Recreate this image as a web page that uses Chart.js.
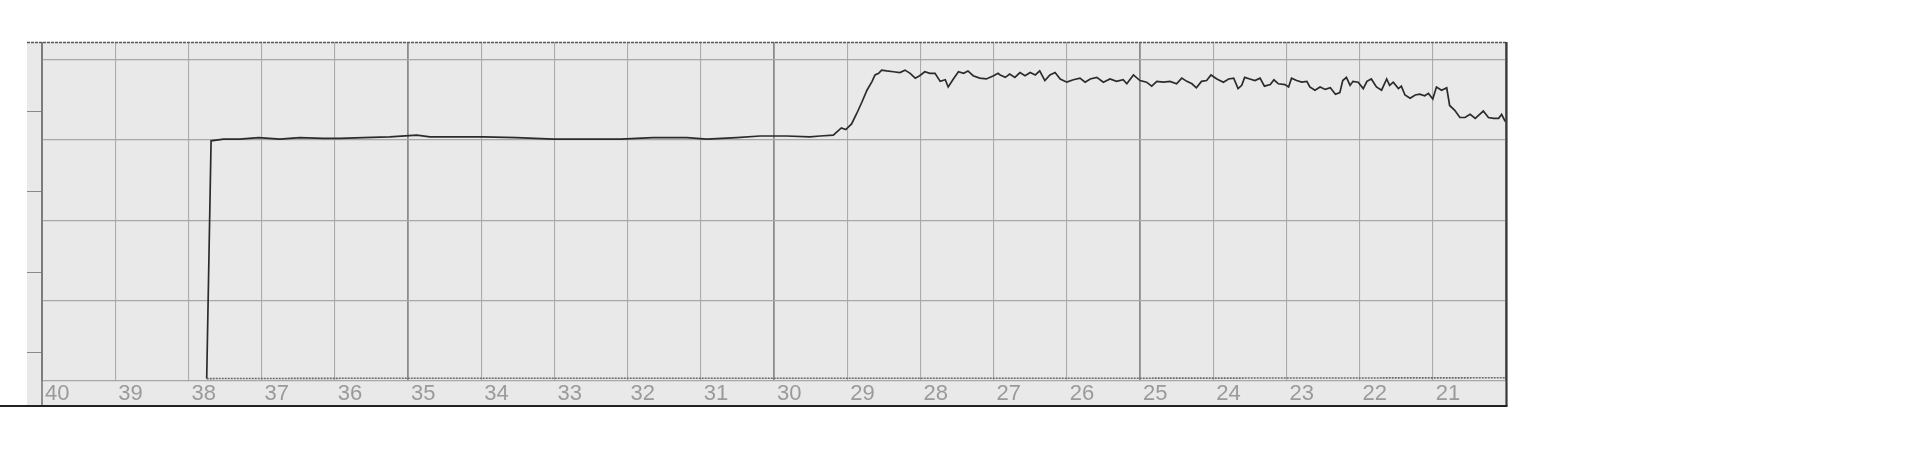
<!DOCTYPE html>
<html>
<head>
<meta charset="utf-8">
<script src="https://cdn.jsdelivr.net/npm/chart.js@4"></script>
<style>
  html, body { margin: 0; padding: 0; background: #ffffff; }
  #wrap { width: 1920px; height: 463px; position: relative; }
</style>
</head>
<body>
<div id="wrap"><canvas id="c" width="1920" height="463"></canvas></div>
<script>
// ---- data ----
const tickLabels = ['40','39','38','37','36','35','34','33','32','31','30','29','28','27','26','25','24','23','22','21'];
const yGridValues = [0, 1, 2, 3, 4];
const sideTickValues = [0.36, 1.36, 2.36, 3.36];

const traceX = [37.75,37.69,37.52,37.30,37.04,36.75,36.48,36.16,35.93,35.61,35.25,34.88,34.70,34.33,33.97,33.52,33.01,32.56,32.10,31.65,31.19,30.92,30.51,30.19,29.83,29.51,29.37,29.19,29.08,29.02,28.94,28.87,28.80,28.73,28.66,28.62,28.57,28.53,28.46,28.37,28.28,28.21,28.14,28.07,28.01,27.94,27.87,27.80,27.73,27.66,27.62,27.55,27.48,27.41,27.35,27.28,27.19,27.10,27.00,26.94,26.91,26.84,26.78,26.71,26.64,26.57,26.50,26.43,26.37,26.30,26.23,26.16,26.09,26.00,25.91,25.82,25.75,25.68,25.59,25.50,25.41,25.32,25.23,25.18,25.09,25.00,24.91,24.84,24.77,24.68,24.59,24.50,24.43,24.36,24.29,24.23,24.16,24.09,24.03,23.95,23.86,23.79,23.72,23.66,23.61,23.57,23.50,23.43,23.36,23.30,23.22,23.17,23.11,23.02,22.97,22.93,22.86,22.79,22.72,22.68,22.61,22.54,22.47,22.40,22.33,22.27,22.23,22.18,22.13,22.09,22.02,21.95,21.90,21.84,21.77,21.70,21.63,21.59,21.54,21.47,21.43,21.38,21.31,21.24,21.18,21.11,21.06,21.00,20.95,20.88,20.81,20.77,20.70,20.63,20.56,20.49,20.42,20.36,20.31,20.24,20.17,20.10,20.06,20.01];
const traceY = [0.03,2.99,3.01,3.01,3.03,3.01,3.03,3.02,3.02,3.03,3.04,3.06,3.04,3.04,3.04,3.03,3.01,3.01,3.01,3.03,3.03,3.01,3.03,3.05,3.05,3.04,3.05,3.06,3.15,3.13,3.20,3.33,3.47,3.62,3.73,3.81,3.83,3.87,3.86,3.85,3.84,3.87,3.83,3.77,3.80,3.85,3.83,3.83,3.73,3.75,3.66,3.76,3.85,3.83,3.86,3.80,3.77,3.76,3.80,3.83,3.81,3.78,3.82,3.78,3.84,3.80,3.84,3.81,3.86,3.74,3.81,3.84,3.76,3.72,3.75,3.77,3.72,3.76,3.78,3.72,3.76,3.73,3.75,3.70,3.81,3.74,3.72,3.67,3.73,3.72,3.73,3.70,3.77,3.73,3.70,3.65,3.73,3.74,3.81,3.76,3.72,3.76,3.77,3.64,3.68,3.78,3.76,3.74,3.77,3.67,3.69,3.75,3.70,3.69,3.66,3.77,3.74,3.72,3.73,3.66,3.62,3.66,3.63,3.65,3.57,3.59,3.74,3.78,3.68,3.73,3.72,3.64,3.73,3.76,3.66,3.62,3.76,3.68,3.72,3.64,3.67,3.56,3.52,3.56,3.57,3.55,3.58,3.51,3.66,3.62,3.65,3.43,3.37,3.28,3.28,3.32,3.27,3.32,3.36,3.28,3.27,3.27,3.32,3.23];

const baseX = [37.75, 35, 30, 25, 20];
const baseY = [0.03, 0.035, 0.035, 0.035, 0.04];

// ---- styling ----
const PAPER = '#e9e9e9';

const paperPlugin = {
  id: 'paper',
  beforeDraw(chart) {
    const { ctx, chartArea: a } = chart;
    ctx.save();
    ctx.fillStyle = PAPER;
    ctx.fillRect(a.left - 15, a.top, a.right - a.left + 16, a.bottom - a.top + 25);
    ctx.restore();
  },
  afterDraw(chart) {
    const { ctx, chartArea: a, scales } = chart;
    const y = scales.y;
    ctx.save();
    // side ticks in the left margin
    ctx.strokeStyle = '#8a8a8a';
    ctx.lineWidth = 1;
    sideTickValues.forEach(v => {
      const py = Math.round(y.getPixelForValue(v)) + 0.5;
      ctx.beginPath(); ctx.moveTo(a.left - 15, py); ctx.lineTo(a.left, py); ctx.stroke();
    });
    // left outer edge line (strip border)
    ctx.strokeStyle = '#777';
    ctx.lineWidth = 1.6;
    ctx.beginPath(); ctx.moveTo(a.left, a.top); ctx.lineTo(a.left, a.bottom + 25); ctx.stroke();
    // top border (dotted dark edge)
    ctx.strokeStyle = '#5a5a5a';
    ctx.lineWidth = 1.4;
    ctx.setLineDash([3, 1]);
    ctx.beginPath(); ctx.moveTo(a.left - 15, a.top + 0.5); ctx.lineTo(a.right + 1, a.top + 0.5); ctx.stroke();
    ctx.setLineDash([]);
    // right border
    ctx.strokeStyle = '#3a3a3a';
    ctx.lineWidth = 2.2;
    ctx.beginPath(); ctx.moveTo(a.right + 0.5, a.top); ctx.lineTo(a.right + 0.5, a.bottom + 25); ctx.stroke();
    // bottom edge line
    ctx.strokeStyle = '#222';
    ctx.lineWidth = 2;
    ctx.beginPath(); ctx.moveTo(0, a.bottom + 25); ctx.lineTo(a.right + 1.5, a.bottom + 25); ctx.stroke();
    ctx.restore();
  }
};

new Chart(document.getElementById('c'), {
  type: 'line',
  data: {
    datasets: [
      {
        label: 'trace',
        data: traceX.map((x, i) => ({ x, y: traceY[i] })),
        borderColor: '#2b2b2b',
        borderWidth: 1.7,
        pointRadius: 0,
        tension: 0,
        fill: false
      },
      {
        label: 'base',
        data: baseX.map((x, i) => ({ x, y: baseY[i] })),
        borderColor: '#6a6a6a',
        borderWidth: 1.6,
        borderDash: [2, 1],
        pointRadius: 0,
        tension: 0,
        fill: false
      }
    ]
  },
  options: {
    responsive: false,
    animation: false,
    devicePixelRatio: 1,
    layout: { padding: { left: 42, right: 414, top: 42, bottom: 55.6 } },
    plugins: { legend: { display: false }, tooltip: { enabled: false } },
    scales: {
      x: {
        type: 'linear',
        reverse: true,
        min: 20,
        max: 40,
        position: 'bottom',
        border: { display: false },
        grid: {
          drawTicks: false,
          color: ctx => (ctx.tick && ctx.tick.value % 5 === 0) ? '#8c8c8c' : '#ababab',
          lineWidth: ctx => (ctx.tick && ctx.tick.value % 5 === 0) ? 1.8 : 1.1
        },
        ticks: {
          stepSize: 1,
          autoSkip: false,
          maxRotation: 0,
          align: 'start',
          labelOffset: 3,
          padding: 0,
          color: '#9a9a9a',
          font: { family: '"Liberation Sans", Arial, sans-serif', size: 22, lineHeight: 1.2 },
          callback: v => tickLabels.includes(String(v)) ? String(v) : ''
        }
      },
      y: {
        type: 'linear',
        min: 0,
        max: 4.22,
        border: { display: false },
        afterBuildTicks: s => { s.ticks = yGridValues.map(v => ({ value: v })); },
        grid: { drawTicks: false, color: '#a8a8a8', lineWidth: 1.2 },
        ticks: { display: false }
      }
    }
  },
  plugins: [paperPlugin]
});
</script>
</body>
</html>
